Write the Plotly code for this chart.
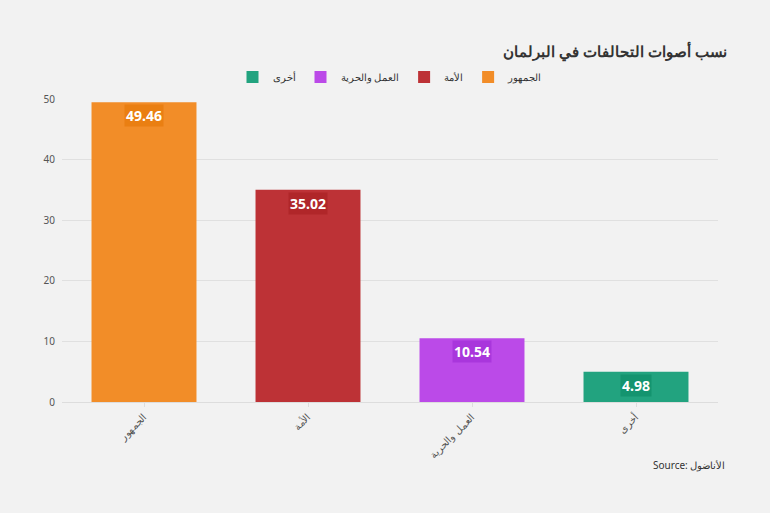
import plotly.graph_objects as go

categories = ["الجمهور", "الأمة", "العمل والحرية", "أخرى"]
values = [49.46, 35.02, 10.54, 4.98]
colors = ["#f28d28", "#bd3236", "#bb4ae8", "#22a37f"]
label_bg = ["#ea7f12", "#b02629", "#a936dc", "#14946f"]
y_ticks = [0, 10, 20, 30, 40, 50]

fig = go.Figure()
for cat, val, col in zip(categories, values, colors):
    fig.add_trace(go.Bar(
        x=[cat], y=[val], name=cat, marker=dict(color=col, line=dict(width=0)),
        hoverinfo="x+y",
    ))

for cat, val, bg in zip(categories, values, label_bg):
    fig.add_annotation(
        x=cat, y=val, xref="x", yref="y", text=f"<b>{val:.2f}</b>",
        showarrow=False, yanchor="top", yshift=-2,
        font=dict(family="Noto Sans", size=14, color="white"),
        bgcolor=bg, borderpad=1,
    )

fig.add_annotation(
    x=1.0137, y=-0.208, xref="paper", yref="paper", xanchor="right", yanchor="middle",
    text="Source: الأناضول", showarrow=False,
    font=dict(family="Noto Sans", size=10, color="#333333"),
)

fig.update_layout(
    width=770, height=513,
    paper_bgcolor="#f2f2f2", plot_bgcolor="#f2f2f2",
    margin=dict(l=62, r=52, t=99, b=111),
    barmode="group", bargap=0.36,
    title=dict(text="<b>نسب أصوات التحالفات في البرلمان</b>", xref="container", yref="container",
               x=0.944, xanchor="right", y=0.899, yanchor="middle",
               font=dict(family="Noto Sans", size=15, color="#333333")),
    legend=dict(orientation="h", x=0.5, xanchor="center", y=1.073, yanchor="middle",
                traceorder="reversed", font=dict(family="Noto Sans", size=10, color="#333333"),
                bgcolor="rgba(0,0,0,0)", itemwidth=30, entrywidth=0, tracegroupgap=0),
    xaxis=dict(tickangle=-45, tickfont=dict(family="Noto Sans", size=10, color="#555555"),
               showline=True, linecolor="#dddddd", linewidth=1, ticks="outside",
               tickcolor="#dddddd", ticklen=4, showgrid=False),
    yaxis=dict(range=[0, 50], tickvals=y_ticks, tickfont=dict(family="Noto Sans", size=10, color="#555555"),
               gridcolor="#e0e0e0", gridwidth=1, zeroline=False, showline=False,
               ticklabelstandoff=6),
    font=dict(family="Noto Sans"),
)

fig.write_html("out.html")
